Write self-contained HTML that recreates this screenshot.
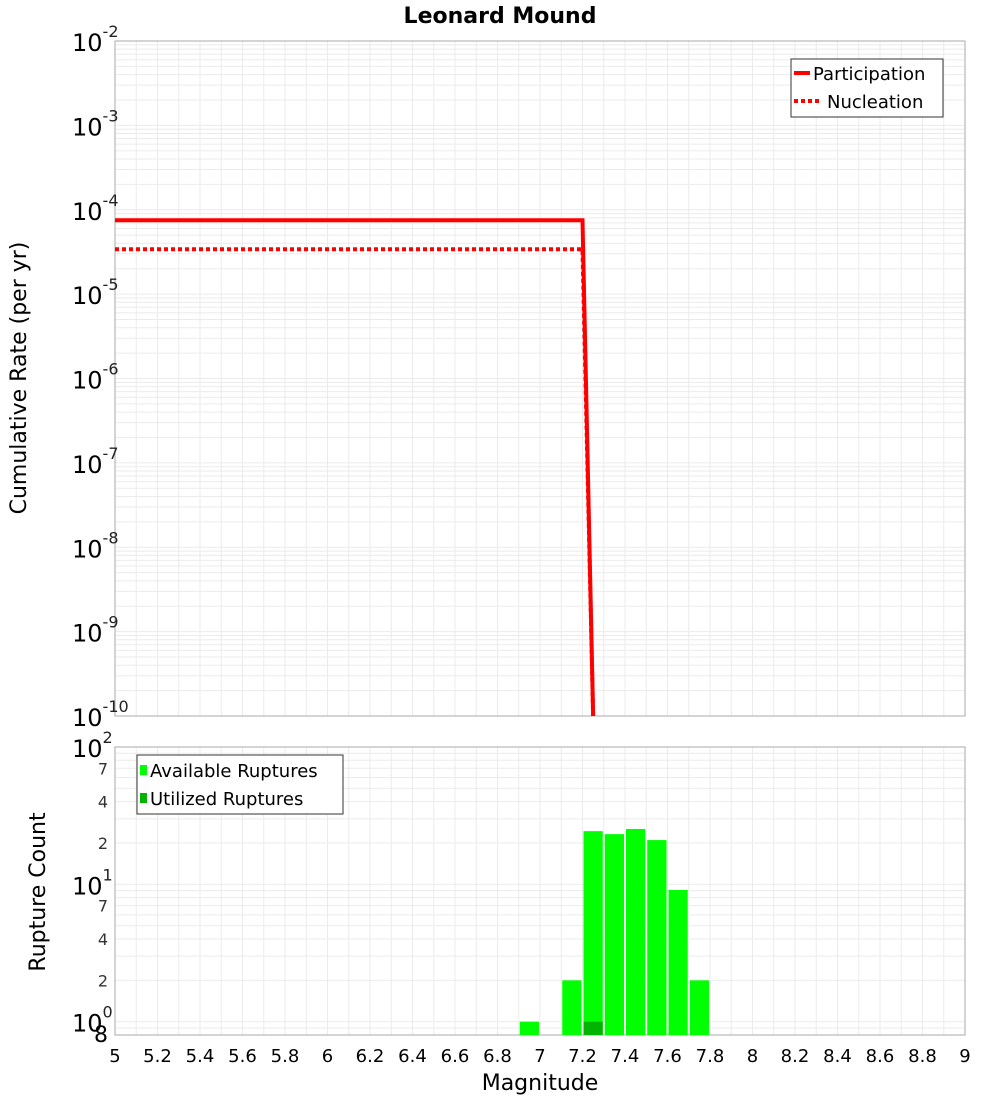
<!DOCTYPE html>
<html><head><meta charset="utf-8"><style>body{margin:0;background:#fff}svg{font-family:"DejaVu Sans","Liberation Sans",sans-serif}</style></head>
<body>
<svg id="c" width="1000" height="1100" xmlns="http://www.w3.org/2000/svg"></svg>
<script>
const partMags=[5,7.2,7.25];
const partRates=[7.5e-5,7.5e-5,1e-10];
const nuclMags=[5,7.2,7.25];
const nuclRates=[3.4e-5,3.4e-5,1e-10];
const binCenters=[6.95,7.15,7.25,7.35,7.45,7.55,7.65,7.75];
const availCounts=[1,2,24.4,23.2,25.3,21,9.1,2];
const utilCounts=[0,0,1,0,0,0,0,0];
const xTicks=[5,5.2,5.4,5.6,5.8,6,6.2,6.4,6.6,6.8,7,7.2,7.4,7.6,7.8,8,8.2,8.4,8.6,8.8,9];
const topExps=[-2,-3,-4,-5,-6,-7,-8,-9,-10];
const botMinor=[7,4,2];
const svg=document.getElementById('c');const NS='http://www.w3.org/2000/svg';
function mk(t,a,p){const e=document.createElementNS(NS,t);for(const k in a)e.setAttribute(k,a[k]);(p||svg).appendChild(e);return e;}
const L=115,R=965,T1=41,B1=716,T2=747,B2=1035;
const xs=m=>L+(m-5)/4*(R-L);
const y1=v=>T1+(-2-Math.log10(v))/8*(B1-T1);
const lmin=Math.log10(0.8),lmax=2;
const y2=v=>T2+(lmax-Math.log10(v))/(lmax-lmin)*(B2-T2);
let g=mk('g',{});
for(let m=5;m<=9.001;m+=0.1){const x=xs(m);mk('line',{x1:x,x2:x,y1:T1,y2:B1,stroke:'#ebebeb'},g);mk('line',{x1:x,x2:x,y1:T2,y2:B2,stroke:'#ebebeb'},g);}
for(let e=-10;e<-2;e++)for(let k=1;k<10;k++){const y=y1(k*Math.pow(10,e));mk('line',{x1:L,x2:R,y1:y,y2:y,stroke:'#ebebeb'},g);}
for(let e=-1;e<2;e++)for(let k=1;k<10;k++){const v=k*Math.pow(10,e);if(v<0.8)continue;const y=y2(v);mk('line',{x1:L,x2:R,y1:y,y2:y,stroke:'#ebebeb'},g);}
mk('rect',{x:L,y:T1,width:R-L,height:B1-T1,fill:'none',stroke:'#aaa'});
mk('rect',{x:L,y:T2,width:R-L,height:B2-T2,fill:'none',stroke:'#aaa'});
let t=mk('text',{x:500,y:23,'text-anchor':'middle','font-size':22,'font-weight':'bold'});t.textContent='Leonard Mound';
function sup(x,y,e,name){const tx=mk('text',{x:x,y:y,'font-size':24});const a=mk('tspan',{},tx);a.textContent='10';const s=mk('tspan',{dy:-14,'font-size':16,fill:'#222'},tx);s.textContent=e;}
topExps.forEach(e=>{sup(72,y1(Math.pow(10,e))+10,e,'y-tick-label');});
t=mk('text',{transform:'translate(26,378) rotate(-90)','text-anchor':'middle','font-size':22});t.textContent='Cumulative Rate (per yr)';
function pl(ms,vs,attrs,name){const p=mk('polyline',Object.assign({points:ms.map((m,i)=>xs(m)+','+y1(vs[i])).join(' '),fill:'none'},attrs));}
pl(nuclMags,nuclRates,{stroke:'#f00','stroke-width':4,'stroke-dasharray':'4,3'},'nucleation-line');
pl(partMags,partRates,{stroke:'#f00','stroke-width':4},'participation-line');
let lg=mk('g',{});
mk('rect',{x:791,y:59,width:152,height:58,fill:'#fff',stroke:'#333'},lg);
mk('line',{x1:794,x2:810,y1:73,y2:73,stroke:'#f00','stroke-width':4},lg);
mk('line',{x1:794,x2:822,y1:101,y2:101,stroke:'#f00','stroke-width':4,'stroke-dasharray':'4,3'},lg);
t=mk('text',{x:813,y:80,'font-size':18},lg);t.textContent='Participation';
t=mk('text',{x:827,y:108,'font-size':18},lg);t.textContent='Nucleation';
const bw=(xs(5.1)-xs(5))-2;
binCenters.forEach((c,i)=>{const v=availCounts[i];if(v>0){const r=mk('rect',{x:xs(c)-bw/2,y:y2(v),width:bw,height:B2-y2(v),fill:'#00ff00'});}
const u=utilCounts[i];if(u>0){const r=mk('rect',{x:xs(c)-bw/2,y:y2(u),width:bw,height:B2-y2(u),fill:'#00b400'});}});
[[100,'2'],[10,'1'],[1,'0']].forEach(([v,e])=>{sup(72,y2(v)+10,e,'y2-tick-label');});
[1,10].forEach(d=>botMinor.forEach(k=>{const y=y2(k*d);const tx=mk('text',{x:108,y:y+6,'font-size':16,'text-anchor':'end',fill:'#333'});tx.textContent=k;}));
t=mk('text',{x:108,y:B2+7,'font-size':22,'text-anchor':'end'});t.textContent='8';
t=mk('text',{transform:'translate(45,892) rotate(-90)','text-anchor':'middle','font-size':22});t.textContent='Rupture Count';
xTicks.forEach(m=>{const tx=mk('text',{x:xs(m),y:1062,'font-size':18,'text-anchor':'middle'});tx.textContent=String(m);});
t=mk('text',{x:540,y:1090,'font-size':22,'text-anchor':'middle'});t.textContent='Magnitude';
lg=mk('g',{});
mk('rect',{x:137,y:755,width:206,height:59,fill:'#fff',stroke:'#333'},lg);
mk('rect',{x:140,y:765,width:7,height:10,fill:'#00ff00'},lg);
mk('rect',{x:140,y:793,width:7,height:10,fill:'#00b400'},lg);
t=mk('text',{x:150,y:777,'font-size':18},lg);t.textContent='Available Ruptures';
t=mk('text',{x:150,y:805,'font-size':18},lg);t.textContent='Utilized Ruptures';
</script>
</body></html>
